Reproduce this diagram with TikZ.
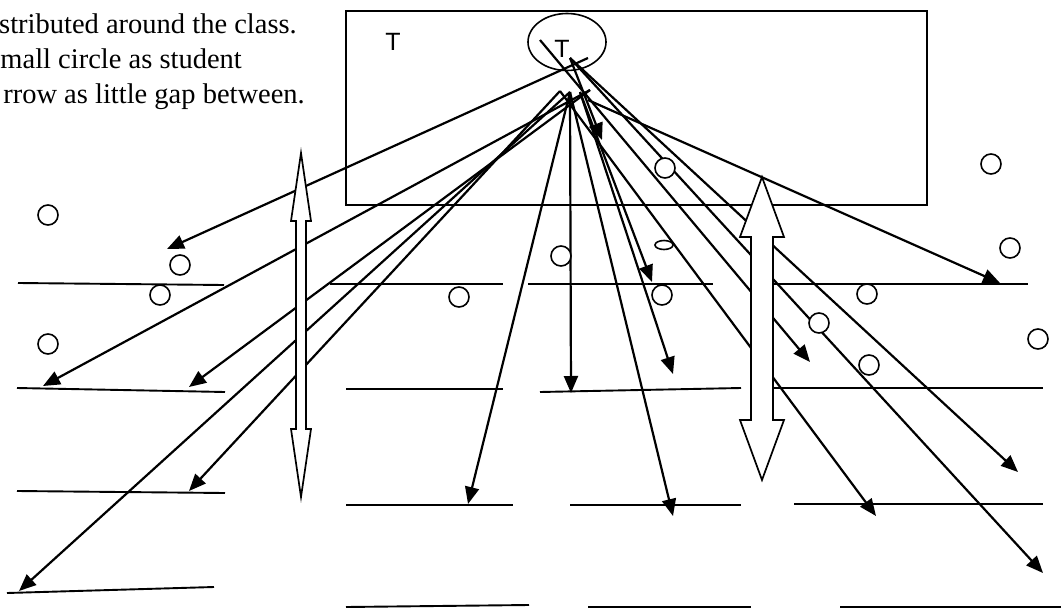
\documentclass[tikz,border=0pt]{standalone}
\usepackage{fontspec}
\setmainfont{Liberation Serif}
\newfontfamily\arialfont{Liberation Sans}
\usepackage{tikz}
\usetikzlibrary{arrows.meta}
\usetikzlibrary{shapes.geometric}
\tikzstyle{arr}=[line width=2.2pt, -{Triangle[length=17pt,width=14pt]}]
\tikzstyle{desk}=[line width=1.9pt]
\tikzstyle{pupil}=[circle, draw, fill=white, line width=1.6pt, minimum size=20pt, inner sep=0pt]
\tikzstyle{hollow}=[draw, fill=white, line width=1.7pt, line join=miter]
\tikzstyle{letter}=[font=\arialfont\fontsize{25}{25}\selectfont, inner sep=0pt, anchor=base]
\tikzstyle{note}=[font=\fontsize{28.5}{35}\selectfont, inner sep=0pt, anchor=base east]
% x, top y, bottom y, half shaft, half head, head length
\newcommand{\dblarrow}[6]{\draw [hollow] (#1,#2) -- (#1+#5,#2+#6) -- (#1+#4,#2+#6) -- (#1+#4,#3-#6) -- (#1+#5,#3-#6) -- (#1,#3) -- (#1-#5,#3-#6) -- (#1-#4,#3-#6) -- (#1-#4,#2+#6) -- (#1-#5,#2+#6) -- cycle;}

\begin{document}
\begin{tikzpicture}[x=1pt,y=-1pt]
    \useasboundingbox (0,0) rectangle (1061,608);

    %note
    \node [note] (nota) at (297,33) {stributed around the class.};
    \node [note] (notb) at (242,68) {mall circle as student};
    \node [note] (notc) at (305,103) {rrow as little gap between.};

    %board
    \draw [line width=1.9pt] (346,11) rectangle (927,205);
    \node [letter] (ta) at (393,50) {T};
    \node [draw, ellipse, line width=1.6pt, minimum width=78pt, minimum height=57pt, inner sep=0pt] (tch) at (567,42) {};
    \node [letter] (tb) at (562,57) {T};

    %desks
    \foreach \xa/\ya/\xb/\yb in {18/283/224/285, 330/284/503/284, 528/284/713/284, 765/284/1028/284,
        17/388/225/392, 346/389/503/389, 540/392/741/388, 765/388/1043/388,
        17/491/225/493, 346/505/513/505, 570/505/741/505, 794/504/1043/504,
        7/593/214/587, 346/607/529/605, 588/607/751/607, 840/607/1061/607}
        {\draw [desk] (\xa,\ya) -- (\xb,\yb);}

    %arrows
    \coordinate (s1) at (540,40);
    \coordinate (s2) at (570,58);
    \coordinate (s3) at (588,58);
    \coordinate (s4) at (560,91);
    \coordinate (s5) at (570,92);
    \coordinate (s6) at (580,92);
    \coordinate (s7) at (590,90);
    \coordinate (s8) at (588,100);
    \foreach \s/\x/\y [count=\i] in {s3/167/249, s7/43/386, s7/189/387, s4/189/491, s5/19/591,
        s5/468/504, s5/571/393, s5/673/516, s6/673/374, s6/652/282, s2/602/140,
        s8/1000/283, s1/810/362, s2/1018/472, s4/876/516, s2/1043/573}
        {\coordinate (t\i) at (\x,\y);
         \draw [arr] (\s) -- (t\i);}

    %students
    \foreach \x/\y [count=\i] in {48/215, 180/265, 160/295, 48/344, 665/168, 991/164, 1010/248, 561/256,
        459/297, 662/295, 867/294, 819/323, 1038/339, 869/365}
        {\node [pupil] (p\i) at (\x,\y) {};}
    \node [draw, ellipse, fill=white, line width=1.6pt, minimum width=18pt, minimum height=9pt, inner sep=0pt] (p15) at (664,245) {};

    %gaps
    \dblarrow{301}{153}{497}{5}{10}{68}
    \dblarrow{762}{177}{480}{11}{22}{60}

\end{tikzpicture}
\end{document}
